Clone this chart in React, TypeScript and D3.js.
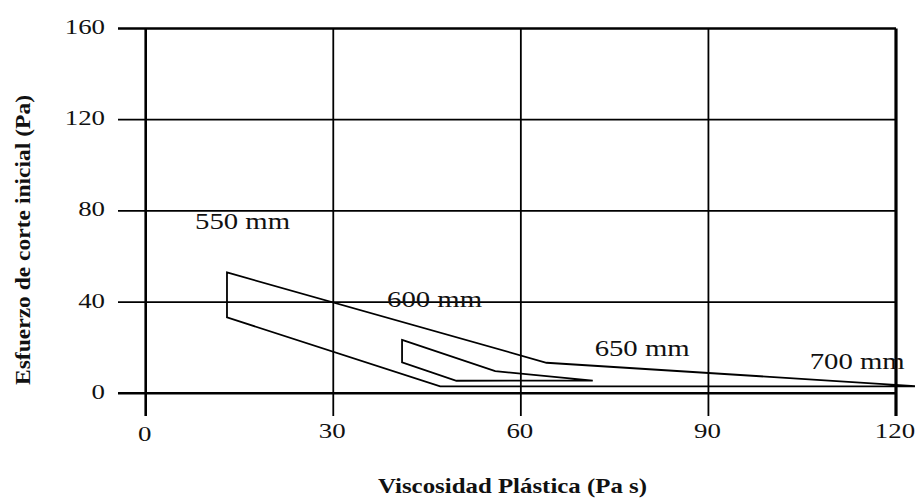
import React from "react";
import * as d3 from "d3";

const xTicks = [0, 30, 60, 90, 120];
const yTicks = [0, 40, 80, 120, 160];

// Outer envelope (550 / 600 mm region) — [viscosity, yield stress]
const outerX = [13, 64.1, 124, 47.1, 13];
const outerY = [53, 13.4, 3, 3, 33.3];

// Inner envelope (600 / 650 mm region)
const innerX = [41, 55.9, 71.5, 49.7, 41];
const innerY = [23.4, 9.7, 5.6, 5.5, 13.6];

const labelText = ["550 mm", "600 mm", "650 mm", "700 mm"];
const labelX = [7.9, 38.6, 71.8, 106.2];
const labelY = [72.1, 37.9, 16.3, 10.7];

const W = 915;
const H = 499;
const FONT = "'Liberation Serif', 'Times New Roman', serif";

export default function App() {
  const x = d3.scaleLinear().domain([0, 120]).range([145.7, 896]);
  const y = d3.scaleLinear().domain([0, 160]).range([393.3, 28.5]);

  const line = d3
    .line<[number, number]>()
    .x((d) => x(d[0]))
    .y((d) => y(d[1]))
    .curve(d3.curveLinearClosed);

  const outer = outerX.map((v, i) => [v, outerY[i]] as [number, number]);
  const inner = innerX.map((v, i) => [v, innerY[i]] as [number, number]);

  const x0 = x(0);
  const xMax = x(120);
  const yTop = y(160);
  const yBot = y(0);

  return (
    <svg
      width={W}
      height={H}
      style={{ position: "absolute", left: 0, top: 0, background: "#fff" }}
    >
      <rect x={0} y={0} width={W} height={H} fill="#fff" />
      {/* horizontal grid lines with left ticks */}
      {yTicks.map((t) => (
        <line
          key={"h" + t}
          x1={118}
          x2={xMax}
          y1={y(t)}
          y2={y(t)}
          stroke="#000"
          strokeWidth={t === 0 || t === 160 ? 2.6 : 1.8}
        />
      ))}
      {/* vertical grid lines with bottom ticks */}
      {xTicks.map((t) => (
        <line
          key={"v" + t}
          x1={x(t)}
          x2={x(t)}
          y1={yTop}
          y2={416}
          stroke="#000"
          strokeWidth={t === 0 ? 2.6 : t === 120 ? 3.2 : 1.8}
        />
      ))}
      {/* envelopes */}
      <path d={line(outer) || ""} fill="none" stroke="#000" strokeWidth={1.8} />
      <path d={line(inner) || ""} fill="none" stroke="#000" strokeWidth={1.8} />

      {/* y tick labels */}
      {yTicks.map((t) => (
        <text
          key={"yl" + t}
          transform={`translate(105,${y(t) + 5.5}) scale(1.25,1)`}
          textAnchor="end"
          fontFamily={FONT}
          fontSize={21.5}
          fill="#111"
        >
          {t}
        </text>
      ))}
      {/* x tick labels */}
      {xTicks.map((t) => (
        <text
          key={"xl" + t}
          transform={`translate(${x(t) - 1},${t === 0 ? 441 : 437.5}) scale(1.25,1)`}
          textAnchor="middle"
          fontFamily={FONT}
          fontSize={21.5}
          fill="#111"
        >
          {t}
        </text>
      ))}
      {/* annotations */}
      {labelText.map((s, i) => (
        <text
          key={s}
          transform={`translate(${x(labelX[i])},${y(labelY[i])}) scale(1.25,1)`}
          fontFamily={FONT}
          fontSize={23}
          fill="#111"
        >
          {s}
        </text>
      ))}
      {/* axis titles */}
      <text
        x={512.5}
        y={493}
        textAnchor="middle"
        fontFamily={FONT}
        fontWeight="bold"
        fontSize={22}
        textLength={269}
        lengthAdjust="spacingAndGlyphs"
        fill="#111"
      >
        Viscosidad Plástica (Pa s)
      </text>
      <text
        transform="translate(30,240) rotate(-90)"
        textAnchor="middle"
        fontFamily={FONT}
        fontWeight="bold"
        fontSize={22}
        textLength={290}
        lengthAdjust="spacingAndGlyphs"
        fill="#111"
      >
        Esfuerzo de corte inicial (Pa)
      </text>
    </svg>
  );
}
